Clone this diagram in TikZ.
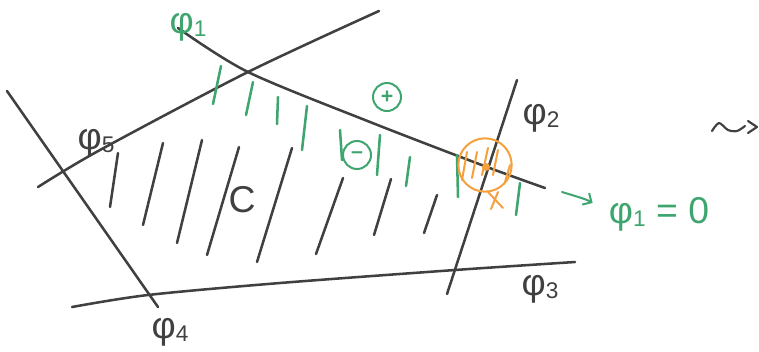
\documentclass[tikz,border=0pt]{standalone}
\usepackage{fontspec}
\setmainfont{Liberation Sans}
\usetikzlibrary{arrows.meta,calc}
\definecolor{skgreen}{HTML}{3FA56E}
\definecolor{skorange}{HTML}{F5A03C}
\definecolor{skdark}{HTML}{404040}
\newcommand\phiidx[1]{φ\raisebox{-0.1em}{\fontsize{17}{18}\selectfont #1}}
\tikzset{
  >=Stealth,
  pen/.style={draw=skdark,line width=1.9pt,line cap=round},
  hatch/.style={draw=skdark,line width=1.9pt,line cap=round},
  ghatch/.style={draw=skgreen,line width=1.9pt,line cap=round},
  ohatch/.style={draw=skorange,line width=1.5pt,line cap=round},
  lbl/.style={text=skdark,font=\fontsize{28}{30}\selectfont,inner sep=0pt},
  glbl/.style={lbl,text=skgreen},
  sign/.style={draw=skgreen,line width=1.5pt,circle,minimum size=21pt,inner sep=0pt,
               text=skgreen,font=\fontsize{16}{18}\selectfont\bfseries},
  ocircle/.style={draw=skorange,line width=1.5pt,circle,minimum size=40pt,inner sep=0pt},
  garrow/.style={-{Straight Barb[length=5pt]},draw=skgreen,line width=1.5pt,line cap=round},
}

\begin{document}
\begin{tikzpicture}[x=0.75pt,y=-0.75pt]
  \useasboundingbox (0,0) rectangle (759,351);

  % ===== the five constraint lines =====
  \draw[pen] plot[smooth] coordinates {(178,28) (248,72) (370,122) (487,167) (545,188)};
  \draw[pen] plot[smooth] coordinates {(38,187) (100,150) (248,72) (379,11)};
  \draw[pen] (7,91) -- (158,307);
  \draw[pen] plot[smooth] coordinates {(72,307) (148,295) (280,283) (455,270) (575,262)};
  \draw[pen] (517,80) -- (447,294);

  % ===== hatching of the feasible set C =====
  \foreach \xa/\ya/\xb/\yb in {118/153/110/207, 163/143/143/225, 202/140/177/243,
      239/147/207/255, 292/148/257/262, 343/178/316/254, 391/179/374/235, 437/195/424/233}{
    \draw[hatch] (\xa,\ya) -- (\xb,\yb);
  }
  % green ticks on the inner side of phi_1
  \foreach \xa/\ya/\xb/\yb in {221/66/213/104, 253/82/246/115, 278/97/277/124,
      307/106/302/150, 340/130/342/160, 380/135/377/175, 410/157/406/186,
      457/155/458/197, 520/183/516/215}{
    \draw[ghatch] (\xa,\ya) -- (\xb,\yb);
  }

  % ===== labels =====
  \node[glbl] (phione) at (188,27) {\phiidx{1}};
  \node[lbl] (phitwo) at (541,118) {\phiidx{2}};
  \node[lbl] (phithree) at (540,289) {\phiidx{3}};
  \node[lbl] (phifour) at (170,332) {\phiidx{4}};
  \node[lbl] (phifive) at (96,143) {\phiidx{5}};
  \node[lbl] (setC) at (242,200) {C};
  \node[sign] (plus) at (387,97) {+};
  \node[sign] (minus) at (357,155) {–};

  % ===== highlighted vertex =====
  \node[ocircle] (vertex) at (485,165) {};
  \fill[skorange] (486,167) circle (3pt);
  \foreach \xa/\ya/\xb/\yb in {467/152/462/180, 477/152/472/178, 488/148/482/175,
      498/150/493/175, 510/165/505/182, 488/192/503/208, 498/192/491/209}{
    \draw[ohatch] (\xa,\ya) -- (\xb,\yb);
  }

  % ===== active constraint =====
  \node[glbl] (phizero) at (659,214) {\phiidx{1} = 0};
  \coordinate (arrS) at (562,192);
  \draw[garrow] (arrS) .. controls (575,196) and (586,199) .. ($(phizero.west)+(-16,-11)$);

  % ===== squiggly "leads to" =====
  \draw[pen,line width=1.6pt,line join=round]
    plot[smooth] coordinates {(712,131) (719,123) (728,130) (737,131) (745,126)};
  \draw[pen,line width=1.6pt,line join=round] (748,121) -- (757,127) -- (748,133);
\end{tikzpicture}
\end{document}
